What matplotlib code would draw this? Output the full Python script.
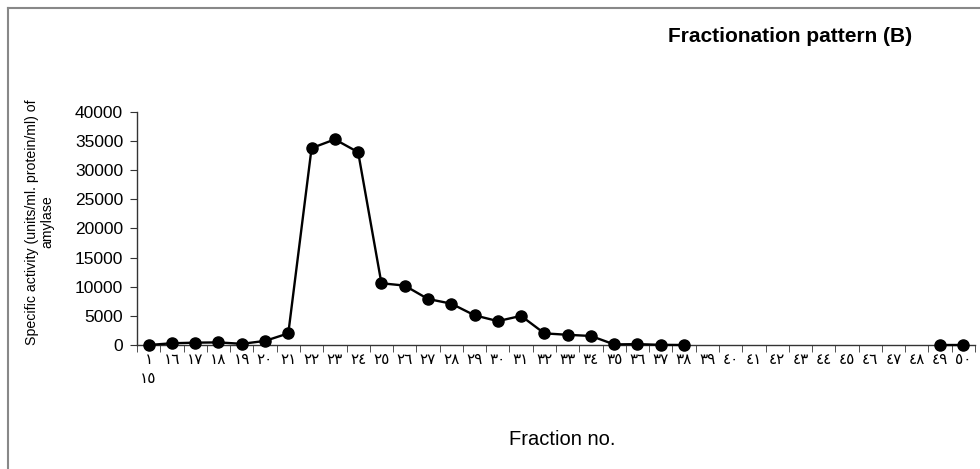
import numpy as np
import matplotlib
matplotlib.use("Agg")
import matplotlib.pyplot as plt

plt.rcParams['font.family'] = ['Liberation Sans', 'DejaVu Sans']

# fractions 15..50, Arabic-Indic labels as printed on the chart
tick_labels = ['١\n١٥', '١٦', '١٧', '١٨', '١٩', '٢٠', '٢١', '٢٢', '٢٣', '٢٤', '٢٥', '٢٦',
               '٢٧', '٢٨', '٢٩', '٣٠', '٣١', '٣٢', '٣٣', '٣٤', '٣٥', '٣٦', '٣٧', '٣٨',
               '٣٩', '٤٠', '٤١', '٤٢', '٤٣', '٤٤', '٤٥', '٤٦', '٤٧', '٤٨', '٤٩', '٥٠']
# specific activity per fraction (nan = not measured)
activity = [0, 300, 400, 450, 200, 700, 2000, 33800, 35300, 33100, 10600, 10200,
            7900, 7100, 5100, 4100, 5000, 2000, 1750, 1550, 100, 150, 30, 0,
            np.nan, np.nan, np.nan, np.nan, np.nan, np.nan, np.nan, np.nan, np.nan, np.nan, 0, 0]
y_ticks = [0, 5000, 10000, 15000, 20000, 25000, 30000, 35000, 40000]

fig = plt.figure(figsize=(9.8, 4.69), dpi=100)
ax = fig.add_axes([137/980, 1-345/469, (975-137)/980, (345-112)/469])

x = np.arange(len(tick_labels))
ax.plot(x, activity, color='black', lw=1.7, marker='o', ms=8, clip_on=False, zorder=3)

ax.set_xlim(-0.5, len(tick_labels) - 0.5)
ax.set_ylim(0, 40000)
ax.set_yticks(y_ticks)
ax.set_yticklabels([str(v) for v in y_ticks], fontsize=12.5)
ax.set_xticks(x)
ax.set_xticklabels(tick_labels, fontsize=11, family=['DejaVu Sans'], linespacing=1.35)
ax.set_xticks(np.arange(-0.5, len(tick_labels)), minor=True)
ax.tick_params(axis='x', which='major', length=0, pad=5)
ax.tick_params(axis='x', which='minor', length=5, direction='out', color='#333333')
ax.tick_params(axis='y', length=5, direction='out', color='#333333', pad=5)
for s in ['top', 'right']:
    ax.spines[s].set_visible(False)
for s in ['left', 'bottom']:
    ax.spines[s].set_color('#333333')
    ax.spines[s].set_linewidth(1.0)

fig.text(790/980, 1-36/469, 'Fractionation pattern (B)', ha='center', va='center',
         fontsize=15, fontweight='bold')
fig.text(562/980, 1-439/469, 'Fraction no.', ha='center', va='center', fontsize=14.5)
fig.text(40/980, 1-222/469, 'Specific activity (units/ml. protein/ml) of\namylase',
         ha='center', va='center', rotation=90, fontsize=10.2, linespacing=1.15)

# chart border (left and top visible)
fig.add_artist(plt.Line2D([7.5/980, 7.5/980], [0, 1-8.5/469], color='#888888', lw=1.5))
fig.add_artist(plt.Line2D([7.5/980, 1], [1-8.5/469, 1-8.5/469], color='#888888', lw=1.5))

fig.savefig('out.png', dpi=100)
